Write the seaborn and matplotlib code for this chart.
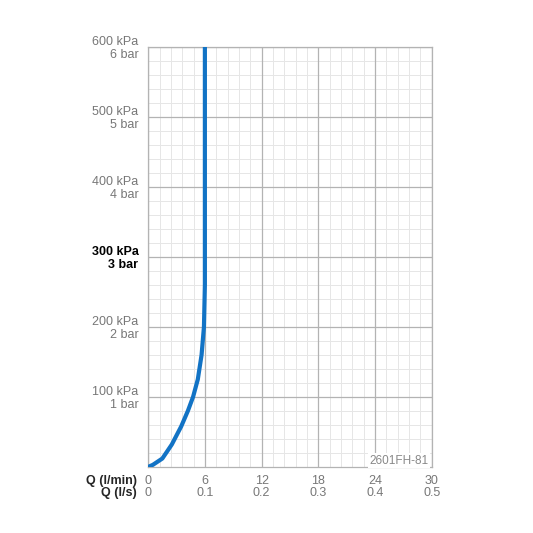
import matplotlib

matplotlib.use("Agg")
import matplotlib.pyplot as plt
import numpy as np
import seaborn as sns

# flow curve (Q l/min, pressure kPa)
flow_lpm = [0, 0.5, 1.5, 2.5, 3.5, 4.2, 4.75, 5.25, 5.65, 5.9, 6.0, 6.0]
pressure_kpa = [0, 3, 12, 32, 58, 80, 100, 125, 160, 200, 260, 600]

x_ticks = [0, 6, 12, 18, 24, 30]
x_ticks_ls = ["0", "0.1", "0.2", "0.3", "0.4", "0.5"]
y_ticks = [100, 200, 300, 400, 500, 600]

sns.set_theme(style="white")
plt.rcParams["font.family"] = ["Liberation Sans", "DejaVu Sans"]

fig = plt.figure(figsize=(5.33, 5.33), dpi=100)
ax = fig.add_axes([0.278, 0.124, 0.532, 0.788])

for v in np.arange(0, 30.01, 1.2):
    ax.axvline(v, color="#e6e6e6", lw=0.7, zorder=0)
for v in np.arange(0, 600.1, 20):
    ax.axhline(v, color="#e6e6e6", lw=0.7, zorder=0)
for v in x_ticks:
    ax.axvline(v, color="#b3b3b3", lw=0.9, zorder=1)
for v in y_ticks:
    ax.axhline(v, color="#b3b3b3", lw=0.9, zorder=1)

sns.lineplot(x=flow_lpm, y=pressure_kpa, ax=ax, color="#1273c5", lw=3,
             sort=False, estimator=None, zorder=3)

ax.set_xlim(0, 30)
ax.set_ylim(0, 600)
for s in ax.spines.values():
    s.set_color("#b3b3b3")
    s.set_linewidth(0.9)

ax.set_yticks(y_ticks)
ax.set_yticklabels([f"{v} kPa\n{v // 100} bar" for v in y_ticks], fontsize=9,
                   color="#777777", ha="right", linespacing=1.05)
for lbl in ax.get_yticklabels():
    if lbl.get_text().startswith("300"):
        lbl.set_fontweight("bold")
        lbl.set_color("black")
ax.tick_params(axis="y", length=0, pad=7)
ax.set_xticks([])

for v, t in zip(x_ticks, x_ticks_ls):
    ax.text(v, -20, str(v), ha="center", va="center", fontsize=9, color="#777777")
    ax.text(v, -37, t, ha="center", va="center", fontsize=9, color="#777777")
ax.text(-1.2, -20, "Q (l/min)", ha="right", va="center", fontsize=9, fontweight="bold")
ax.text(-1.2, -37, "Q (l/s)", ha="right", va="center", fontsize=9, fontweight="bold")
for t in ax.texts:
    t.set_clip_on(False)

ax.text(29.7, 9, "2601FH-81", ha="right", va="center", fontsize=8.5, color="#888888",
        bbox=dict(facecolor="white", edgecolor="none", pad=1), zorder=4)

fig.savefig("out.png", dpi=100)
